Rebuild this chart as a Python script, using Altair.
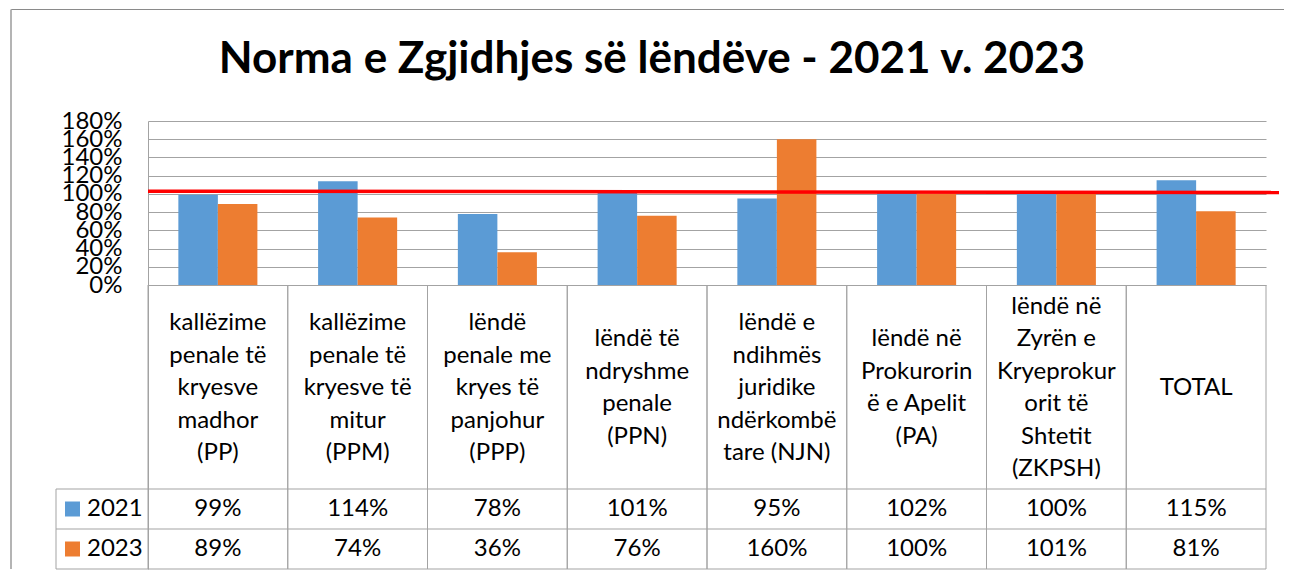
import altair as alt
import pandas as pd

# ---------------- data ----------------
cat_ids = ["PP", "PPM", "PPP", "PPN", "NJN", "PA", "ZKPSH", "TOTAL"]
cat_labels = [
    "kallëzime\npenale të\nkryesve\nmadhor\n(PP)",
    "kallëzime\npenale të\nkryesve të\nmitur\n(PPM)",
    "lëndë\npenale me\nkryes të\npanjohur\n(PPP)",
    "lëndë të\nndryshme\npenale\n(PPN)",
    "lëndë e\nndihmës\njuridike\nndërkombë\ntare (NJN)",
    "lëndë në\nProkurorin\në e Apelit\n(PA)",
    "lëndë në\nZyrën e\nKryeprokur\norit të\nShtetit\n(ZKPSH)",
    "TOTAL",
]
years = ["2021", "2023"]
values_2021 = [99, 114, 78, 101, 95, 102, 100, 115]
values_2023 = [89, 74, 36, 76, 160, 100, 101, 81]
y_ticks = [0, 20, 40, 60, 80, 100, 120, 140, 160, 180]
title_text = "Norma e Zgjidhjes së lëndëve - 2021 v. 2023"
target_start, target_end = 103, 101.5  # hand-drawn red reference line

# ---------------- layout ----------------
FONT = "Lato"
BLUE, ORANGE = "#5B9BD5", "#ED7D31"
GRID = "#a3a3a3"
W = 1118
H0 = 164           # pixel height of 0..180 %
HEADER = 204
ROW = 40
LH = 32.5
PXPER = H0 / 180.0
H = H0 + HEADER + 2 * ROW


def v(px_below_zero):
    return -px_below_zero / PXPER


YMIN = v(HEADER + 2 * ROW)
Y_ROW1_TOP = v(HEADER)
Y_ROW2_TOP = v(HEADER + ROW)
Y_ROW_MID = [v(HEADER + ROW / 2), v(HEADER + 1.5 * ROW)]

bars_df = pd.DataFrame(
    [{"cat": c, "year": years[0], "value": a} for c, a in zip(cat_ids, values_2021)]
    + [{"cat": c, "year": years[1], "value": b} for c, b in zip(cat_ids, values_2023)]
)
cat_df = pd.DataFrame({"cat": cat_ids, "label": cat_labels})
# first-line position so that each multi-line label block is vertically centred in the header row
cat_df["ypos"] = [v(HEADER / 2 + 1 - (lab.count("\n")) * LH / 2) for lab in cat_labels]

xscale = alt.Scale(domain=cat_ids, paddingInner=0, paddingOuter=0)
yscale = alt.Scale(domain=[YMIN, 180], nice=False, zero=False)

bars = alt.Chart(bars_df).mark_bar().encode(
    x=alt.X("cat:N", scale=xscale, sort=cat_ids, axis=None),
    xOffset=alt.XOffset("year:N", scale=alt.Scale(domain=years, paddingInner=0, paddingOuter=0.768)),
    y=alt.Y(
        "value:Q",
        scale=yscale,
        axis=alt.Axis(
            values=y_ticks,
            labelExpr="datum.value + '%'",
            labelFont=FONT,
            labelFontSize=24,
            labelColor="black",
            labelPadding=26,
            labelOverlap=False,
            ticks=False,
            tickSize=0,
            domain=True,
            domainColor=GRID,
            grid=True,
            gridColor=GRID,
            gridWidth=1,
            title=None,
        ),
    ),
    y2=alt.datum(0),
    color=alt.Color("year:N", scale=alt.Scale(domain=years, range=[BLUE, ORANGE]), legend=None),
)

layers = [bars]

# category header text
layers.append(
    alt.Chart(cat_df).mark_text(
        lineBreak="\n", lineHeight=LH, font=FONT, fontSize=24, color="black",
        align="center", baseline="middle",
    ).encode(
        x=alt.X("cat:N", sort=cat_ids),
        y=alt.Y("ypos:Q", axis=alt.Axis(values=y_ticks, labelExpr="datum.value + '%'", title=None)),
        text="label:N",
    )
)

# row values
for yr, vals, ymid, col in zip(years, [values_2021, values_2023], Y_ROW_MID, [BLUE, ORANGE]):
    df = pd.DataFrame({"cat": cat_ids, "txt": [f"{x}%" for x in vals]})
    layers.append(
        alt.Chart(df).mark_text(font=FONT, fontSize=24, color="black", align="center", baseline="middle")
        .encode(x=alt.X("cat:N", sort=cat_ids), y=alt.datum(ymid), text="txt:N")
    )
    ldf = pd.DataFrame({"year": [yr]})
    layers.append(
        alt.Chart(ldf).mark_square(size=225, opacity=1, color=col)
        .encode(x=alt.value(-75.5), y=alt.datum(ymid))
    )
    layers.append(
        alt.Chart(ldf).mark_text(font=FONT, fontSize=24, color="black", align="left", baseline="middle")
        .encode(x=alt.value(-61), y=alt.datum(ymid), text="year:N")
    )

# table vertical lines
for bp in (0, 1):
    layers.append(
        alt.Chart(cat_df).mark_rule(color=GRID, strokeWidth=1)
        .encode(x=alt.X("cat:N", sort=cat_ids, bandPosition=bp), y=alt.datum(0), y2=alt.datum(YMIN))
    )

one = pd.DataFrame({"a": [0]})
# table horizontal lines
for yy in (Y_ROW1_TOP, Y_ROW2_TOP, YMIN):
    layers.append(
        alt.Chart(one).mark_rule(color=GRID, strokeWidth=1)
        .encode(x=alt.value(-92), x2=alt.value(W), y=alt.datum(yy))
    )
layers.append(
    alt.Chart(one).mark_rule(color=GRID, strokeWidth=1)
    .encode(x=alt.value(-92), y=alt.datum(Y_ROW1_TOP), y2=alt.datum(YMIN))
)

# red target line
layers.append(
    alt.Chart(one).mark_rule(color="#ff0000", strokeWidth=3.5)
    .encode(x=alt.value(0), x2=alt.value(W + 13), y=alt.datum(target_start), y2=alt.datum(target_end))
)

# title
layers.append(
    alt.Chart(pd.DataFrame({"t": [title_text]})).mark_text(
        font=FONT, fontSize=44, fontWeight="bold", color="black", align="center", baseline="alphabetic"
    ).encode(x=alt.value(504), y=alt.value(-48), text="t:N")
)

# outer frame
layers.append(
    alt.Chart(one).mark_rule(color="#8a8a8a", strokeWidth=1)
    .encode(x=alt.value(-137), x2=alt.value(1136), y=alt.value(-111.5))
)
layers.append(
    alt.Chart(one).mark_rule(color="#b4b4b4", strokeWidth=2)
    .encode(x=alt.value(-137), y=alt.value(-111.5), y2=alt.value(H))
)

chart = (
    alt.layer(*layers)
    .properties(width=W, height=H, padding={"left": 2, "top": 0, "right": 0, "bottom": 0}, background="white")
    .configure_view(stroke=None)
)

chart.save("out.html", embed_options={"renderer": "svg", "actions": False})
